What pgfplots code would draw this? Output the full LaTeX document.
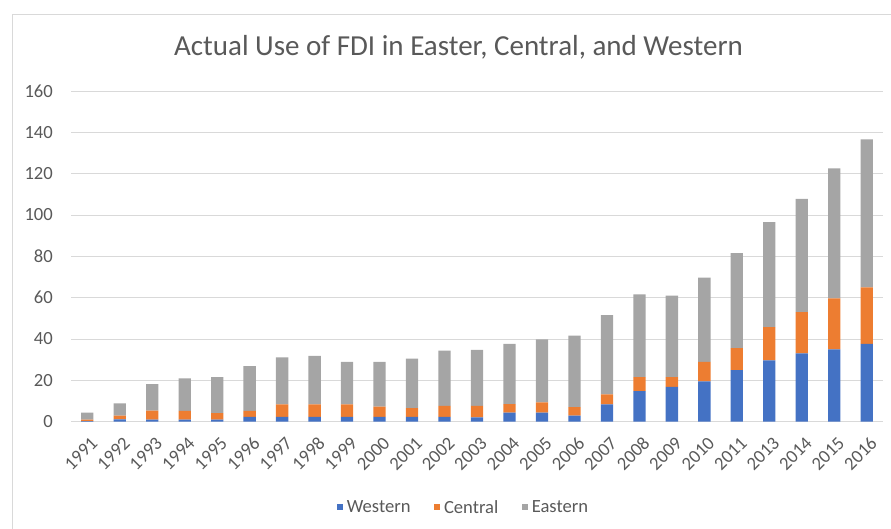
\documentclass[border=0pt]{standalone}
\usepackage{fontspec}
\setmainfont{Carlito}
\usepackage{pgfplots}
\usepackage{pgfplotstable}
\pgfplotsset{compat=1.18}

\definecolor{western}{HTML}{4472C4}
\definecolor{central}{HTML}{ED7D31}
\definecolor{eastern}{HTML}{A5A5A5}
\definecolor{txt}{HTML}{595959}
\definecolor{gridc}{HTML}{D9D9D9}

% FDI by region (Western, Central, Eastern), stacked per year
\pgfplotstableread{
x  W     C     E
0  0.3   0.7   3.4
1  1.1   1.8   6.0
2  1.0   4.3   12.9
3  1.0   4.2   15.8
4  1.0   3.2   17.4
5  2.3   2.9   21.7
6  2.3   6.1   22.7
7  2.3   6.1   23.4
8  2.3   6.1   20.6
9  2.3   5.0   21.7
10 2.3   4.3   23.9
11 2.3   5.4   26.7
12 2.1   5.6   27.1
13 4.4   4.1   29.1
14 4.4   5.0   30.4
15 2.9   4.1   34.6
16 8.4   4.8   38.4
17 14.8  6.8   40.0
18 16.9  4.7   39.4
19 19.5  9.5   40.7
20 25.0  10.6  46.0
21 29.7  16.1  50.7
22 33.1  19.9  54.8
23 35.0  24.7  62.9
24 37.6  27.4  71.6
}\fdi

\begin{document}
\begin{tikzpicture}
\path[use as bounding box] (-71bp,-107.3bp) rectangle (820bp,421.7bp);
\begin{axis}[
  at={(0,0)}, anchor=south west,
  scale only axis,
  width=812bp, height=330.7bp,
  ybar stacked,
  bar width=12.3bp,
  xmin=-0.5, xmax=24.5,
  ymin=0, ymax=160,
  ytick={0,20,...,160},
  xtick=data,
  xticklabels={1991,1992,1993,1994,1995,1996,1997,1998,1999,2000,2001,2002,2003,2004,2005,2006,2007,2008,2009,2010,2011,2013,2014,2015,2016},
  major tick length=0pt,
  axis line style={draw=none},
  ymajorgrids,
  grid style={gridc, line width=0.8bp},
  /pgf/number format/assume math mode=true,
  tick label style={font=\fontsize{18.6bp}{21bp}\selectfont, text=txt},
  xticklabel style={rotate=45, anchor=east, inner sep=0pt, xshift=-8bp, yshift=-18bp},
  yticklabel style={anchor=east, inner sep=0pt, xshift=-18bp},
  title={Actual Use of FDI in Easter, Central, and Western},
  title style={at={(0.4772,1.088)}, anchor=base,
    font=\fontsize{29bp}{32bp}\selectfont, text=txt},
  legend columns=3,
  legend style={at={(0.4830,-0.259)}, anchor=center, draw=none, fill=none,
    font=\fontsize{18.6bp}{21bp}\selectfont, text=txt,
    /tikz/every odd column/.append style={column sep=2.5bp},
    /tikz/every even column/.append style={column sep=22bp},
    nodes={inner xsep=1.5bp, inner ysep=1bp}},
  legend image code/.code={\fill[#1] (0bp,-3bp) rectangle (6bp,3bp);},
]
\addplot[fill=western, draw=none] table[x=x, y=W] {\fdi};
\addplot[fill=central, draw=none] table[x=x, y=C] {\fdi};
\addplot[fill=eastern, draw=none] table[x=x, y=E] {\fdi};
\legend{Western, Central, Eastern}
\end{axis}
\draw[gridc, line width=1bp] (-58.7bp,-107.3bp) -- (-58.7bp,406.7bp) -- (820bp,406.7bp);
\end{tikzpicture}
\end{document}
